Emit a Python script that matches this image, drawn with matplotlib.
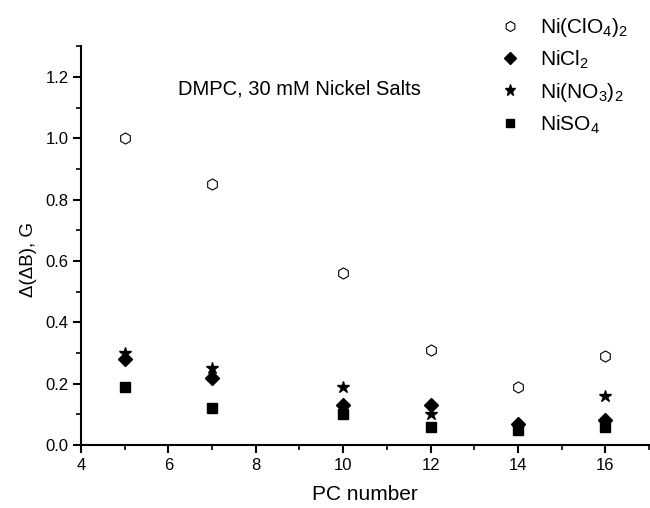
import matplotlib
matplotlib.use("Agg")
import matplotlib.pyplot as plt
from matplotlib.ticker import MultipleLocator

plt.rcParams['font.family'] = ['Liberation Sans', 'DejaVu Sans']
plt.rcParams['mathtext.fontset'] = 'custom'
plt.rcParams['mathtext.rm'] = 'Liberation Sans'

pc = [5, 7, 10, 12, 14, 16]
ni_clo4 = [1.00, 0.85, 0.56, 0.31, 0.19, 0.29]
ni_cl2 = [0.28, 0.22, 0.13, 0.13, 0.07, 0.08]
ni_no3 = [0.30, 0.25, 0.19, 0.10, 0.06, 0.16]
ni_so4 = [0.19, 0.12, 0.10, 0.06, 0.05, 0.06]

labels = [r'Ni(ClO$_4$)$_2$', r'NiCl$_2$', r'Ni(NO$_3$)$_2$', r'NiSO$_4$']

fig = plt.figure(figsize=(6.5, 5.08), dpi=100)
ax = fig.add_axes([0.1246, 0.124, 0.874, 0.785])

h1, = ax.plot(pc, ni_clo4, linestyle='none', marker='h', markersize=8,
              markerfacecolor='white', markeredgecolor='black', markeredgewidth=0.8)
h2, = ax.plot(pc, ni_cl2, linestyle='none', marker='D', markersize=7, color='black')
h3, = ax.plot(pc, ni_no3, linestyle='none', marker='*', markersize=9, color='black')
h4, = ax.plot(pc, ni_so4, linestyle='none', marker='s', markersize=6.5, color='black')

ax.set_xlim(4, 17)
ax.set_ylim(0, 1.3)
ax.xaxis.set_major_locator(MultipleLocator(2))
ax.xaxis.set_minor_locator(MultipleLocator(1))
ax.yaxis.set_major_locator(MultipleLocator(0.2))
ax.yaxis.set_minor_locator(MultipleLocator(0.1))
ax.yaxis.set_major_formatter(matplotlib.ticker.FormatStrFormatter('%.1f'))

for s in ['top', 'right']:
    ax.spines[s].set_visible(False)
for s in ['left', 'bottom']:
    ax.spines[s].set_linewidth(1.5)

ax.tick_params(which='major', direction='out', length=6, width=1.5, labelsize=12, pad=3)
ax.tick_params(which='minor', direction='out', length=3.5, width=1.2)

ax.set_xlabel('PC number', fontsize=15, labelpad=9)
ax.set_ylabel('Δ(ΔB), G', fontsize=13.5)
ax.yaxis.set_label_coords(-0.077, 0.466)

ax.text(0.171, 0.892, 'DMPC, 30 mM Nickel Salts', transform=ax.transAxes,
        fontsize=14.5, va='center', ha='left')

fig.legend([h1, h2, h3, h4], labels, loc='upper left',
           bbox_to_anchor=(0.724, 1.005), frameon=False, fontsize=15,
           handletextpad=0.45, labelspacing=0.45, markerscale=0.9)

fig.savefig('out.png', dpi=100)
